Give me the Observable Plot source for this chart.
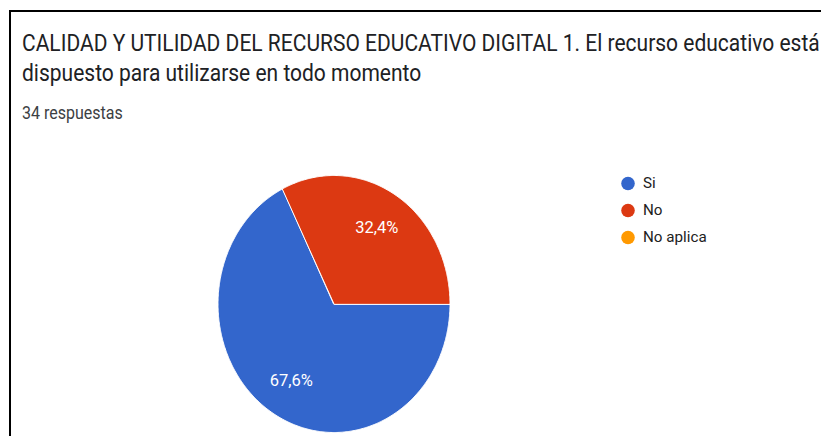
<!DOCTYPE html>
<html>
<head>
<meta charset="utf-8">
<script src="https://cdn.jsdelivr.net/npm/d3@7"></script>
<script src="https://cdn.jsdelivr.net/npm/@observablehq/plot@0.6"></script>
<style>
  html, body { margin: 0; padding: 0; width: 821px; height: 436px; overflow: hidden; background: #fff; }
  #frame { position: absolute; left: 9px; top: 10px; width: 900px; height: 500px;
           border-left: 2px solid #000; border-top: 2px solid #000; }
  .t { position: absolute; white-space: nowrap; color: #202124; font-family: Roboto, "Liberation Sans", sans-serif;
       transform-origin: left center; transform: scaleY(1.1); }
  #title1 { left: 22px; top: 30px; font-size: 21px; line-height: 26px; }
  #title2 { left: 22px; top: 60px; font-size: 21px; line-height: 26px; }
  #sub { left: 22px; top: 104px; font-size: 16px; line-height: 18px; color: #3c4043; }
  #pie { position: absolute; left: 0; top: 0; }
  #legend { position: absolute; left: 600px; top: 160px; }
  svg { background: transparent !important; }
</style>
</head>
<body>
<div id="frame"></div>
<div id="pie"></div>
<div id="legend"></div>
<div class="t" id="title1">CALIDAD Y UTILIDAD DEL RECURSO EDUCATIVO DIGITAL 1. El recurso educativo está</div>
<div class="t" id="title2">dispuesto para utilizarse en todo momento</div>
<div class="t" id="sub">34 respuestas</div>
<script>
const categories = ["Si", "No", "No aplica"];
const counts = [23, 11, 0];
const colors = ["#3366cc", "#dc3912", "#ff9900"];

const total = d3.sum(counts);
const pie = d3.pie().sort(null).startAngle(Math.PI / 2).endAngle(Math.PI / 2 + 2 * Math.PI);
const arcs = pie(counts).map((a, i) => ({...a, cat: categories[i]})).filter(a => a.value > 0);

// polygon points (unit circle) for each slice
const pts = [];
for (const a of arcs) {
  pts.push({cat: a.cat, x: 0, y: 0});
  const n = Math.max(2, Math.ceil((a.endAngle - a.startAngle) / 0.01));
  for (let k = 0; k <= n; k++) {
    const t = a.startAngle + (a.endAngle - a.startAngle) * k / n;
    pts.push({cat: a.cat, x: Math.sin(t), y: Math.cos(t)});
  }
}
const labels = arcs.map(a => {
  const m = (a.startAngle + a.endAngle) / 2;
  return {cat: a.cat, x: 0.7 * Math.sin(m), y: 0.7 * Math.cos(m),
          text: (a.value / total * 100).toFixed(1).replace(".", ",") + "%"};
});

const chart = Plot.plot({
  width: 821, height: 436,
  x: {domain: [-1, 1], range: [217.5, 449.5], axis: null},
  y: {domain: [-1, 1], range: [432, 175], axis: null},
  color: {domain: categories, range: colors},
  style: {background: "transparent"},
  marks: [
    Plot.line(pts, {x: "x", y: "y", z: "cat", fill: "cat", stroke: "white", strokeWidth: 1, curve: "linear-closed"}),
    Plot.text(labels, {x: "x", y: "y", text: "text", fill: "white", fontSize: 16.5,
      fontFamily: "Roboto, 'Liberation Sans', sans-serif"})
  ]
});
document.getElementById("pie").appendChild(chart);

const legend = Plot.plot({
  width: 200, height: 100,
  x: {domain: [0, 1], range: [27.5, 127.5], axis: null},
  y: {type: "point", domain: categories, range: [22.7, 77.7], padding: 0, axis: null},
  color: {domain: categories, range: colors},
  style: {background: "transparent"},
  marks: [
    Plot.dot(categories, {x: 0, y: d => d, fill: d => d, r: 6.8}),
    Plot.text(categories, {x: 0, y: d => d, text: d => d, dx: 15, textAnchor: "start",
      fill: "#212121", fontSize: 15.2, fontFamily: "Roboto, 'Liberation Sans', sans-serif"})
  ]
});
document.getElementById("legend").appendChild(legend);
</script>
</body>
</html>
